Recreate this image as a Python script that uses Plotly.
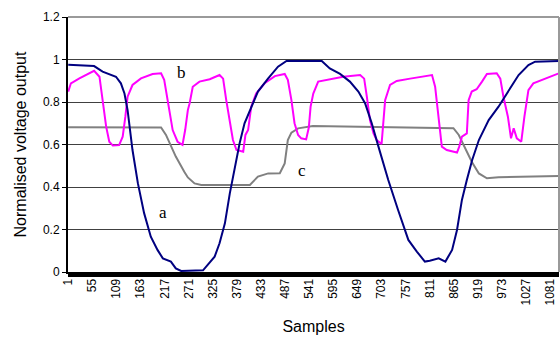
import plotly.graph_objects as go

# Series a (navy)
a_x = [1, 59, 78, 108, 119, 127, 134, 145, 157, 171, 186, 201, 213, 231, 242, 254, 303,
       329, 340, 352, 363, 374, 385, 396, 411, 426, 449, 471, 490, 569, 587, 610, 632, 651,
       666, 681, 696, 718, 740, 763, 782, 800, 811, 831, 846, 861, 872, 883, 894, 906, 921,
       943, 965, 988, 1010, 1032, 1047, 1100]
a_y = [0.975, 0.969, 0.943, 0.919, 0.888, 0.84, 0.762, 0.574, 0.418, 0.277, 0.166, 0.104, 0.064,
       0.049, 0.017, 0.005, 0.008, 0.072, 0.135, 0.229, 0.37, 0.496, 0.606, 0.70, 0.778, 0.849,
       0.911, 0.966, 0.993, 0.993, 0.958, 0.932, 0.896, 0.849, 0.794, 0.70, 0.59, 0.433, 0.292,
       0.151, 0.096, 0.049, 0.053, 0.064, 0.049, 0.104, 0.198, 0.339, 0.433, 0.527, 0.621, 0.715,
       0.778, 0.856, 0.927, 0.974, 0.99, 0.993]

# Series b (magenta)
b_x = [1, 7, 26, 48, 59, 71, 78, 86, 93, 101, 115, 123, 129, 134, 145, 164, 190, 209, 216, 224,
       235, 246, 257, 263, 269, 273, 280, 295, 318, 340, 348, 355, 363, 370, 378, 393, 398, 404,
       411, 422, 441, 464, 486, 493, 501, 508, 516, 523, 534, 540, 544, 550, 561, 587, 617, 655,
       664, 670, 677, 685, 692, 703, 707, 711, 722, 737, 767, 796, 816, 823, 831, 838, 849, 872,
       877, 883, 894, 898, 905, 916, 928, 939, 961, 969, 976, 986, 993, 999, 1006, 1016, 1023,
       1032, 1043, 1062, 1080, 1100]
b_y = [0.849, 0.888, 0.911, 0.935, 0.947, 0.919, 0.809, 0.684, 0.613, 0.595, 0.597, 0.637, 0.731,
       0.825, 0.88, 0.911, 0.932, 0.935, 0.904, 0.809, 0.668, 0.613, 0.598, 0.668, 0.762, 0.794,
       0.872, 0.896, 0.907, 0.927, 0.91, 0.809, 0.70, 0.621, 0.574, 0.566, 0.645, 0.668, 0.778,
       0.84, 0.888, 0.922, 0.932, 0.904, 0.809, 0.70, 0.645, 0.629, 0.624, 0.68, 0.778, 0.84,
       0.896, 0.907, 0.919, 0.927, 0.91, 0.825, 0.715, 0.652, 0.621, 0.602, 0.70, 0.809, 0.88,
       0.899, 0.91, 0.922, 0.927, 0.872, 0.731, 0.59, 0.574, 0.562, 0.59, 0.637, 0.652, 0.809,
       0.849, 0.86, 0.896, 0.932, 0.935, 0.91, 0.825, 0.731, 0.629, 0.676, 0.629, 0.613, 0.731,
       0.856, 0.888, 0.904, 0.919, 0.935]

# Series c (gray)
c_x = [1, 209, 220, 242, 261, 269, 284, 299, 408, 426, 449, 475, 486, 493, 501, 516, 549, 816,
       864, 876, 890, 905, 921, 939, 965, 1100]
c_y = [0.681, 0.68, 0.645, 0.543, 0.472, 0.445, 0.417, 0.409, 0.41, 0.449, 0.464, 0.465, 0.511,
       0.621, 0.656, 0.676, 0.687, 0.681, 0.677, 0.645, 0.582, 0.519, 0.464, 0.441, 0.446, 0.452]

x_ticks = list(range(1, 1082, 54))
y_ticks = [0, 0.2, 0.4, 0.6, 0.8, 1, 1.2]
y_tick_text = ["0", "0.2", "0.4", "0.6", "0.8", "1", "1.2"]

labels = ["a", "b", "c"]
label_x = [213, 255, 524]
label_y = [0.278, 0.941, 0.48]

fig = go.Figure()
fig.add_trace(go.Scatter(x=c_x, y=c_y, mode="lines", line=dict(color="#808080", width=2)))
fig.add_trace(go.Scatter(x=b_x, y=b_y, mode="lines", line=dict(color="#FF00FF", width=2)))
fig.add_trace(go.Scatter(x=a_x, y=a_y, mode="lines", line=dict(color="#000080", width=2)))

for t, lx, ly in zip(labels, label_x, label_y):
    fig.add_annotation(x=lx, y=ly, text=t, showarrow=False,
                       font=dict(family="Liberation Serif", size=17, color="black"))

fig.update_layout(
    width=560, height=338,
    margin=dict(l=68, r=1, t=17, b=66, autoexpand=False),
    paper_bgcolor="white", plot_bgcolor="white",
    showlegend=False,
    font=dict(family="Liberation Sans, Arial", color="black", size=12),
    xaxis=dict(range=[0.5, 1100.5], tickvals=x_ticks, ticktext=[str(v) for v in x_ticks],
               tickangle=-90, showgrid=False, zeroline=False, automargin=False,
               showline=True, linecolor="black", linewidth=2,
               ticks="", tickfont=dict(size=12),
               title=dict(text="Samples", font=dict(size=16), standoff=16)),
    yaxis=dict(range=[0, 1.2], tickvals=y_ticks, ticktext=y_tick_text,
               showgrid=True, gridcolor="#404040", gridwidth=1, zeroline=False,
               automargin=False,
               showline=True, linecolor="black", linewidth=2,
               ticks="outside", ticklen=4, tickcolor="black",
               tickfont=dict(size=12),
               title=dict(text="Normalised voltage output", font=dict(size=16), standoff=12)),
    shapes=[
        dict(type="line", xref="paper", yref="paper", x0=0, x1=1, y0=1, y1=1,
             line=dict(color="#9a9a9a", width=2)),
        dict(type="line", xref="paper", yref="paper", x0=1, x1=1, y0=0, y1=1,
             line=dict(color="#9a9a9a", width=2)),
        dict(type="rect", xref="paper", yref="paper", x0=0, x1=1, y0=-5 / 255, y1=0,
             fillcolor="black", line=dict(width=0)),
    ],
)

fig.write_html("out.html", config={"displayModeBar": False},
               post_script="document.body.style.margin='0';")
